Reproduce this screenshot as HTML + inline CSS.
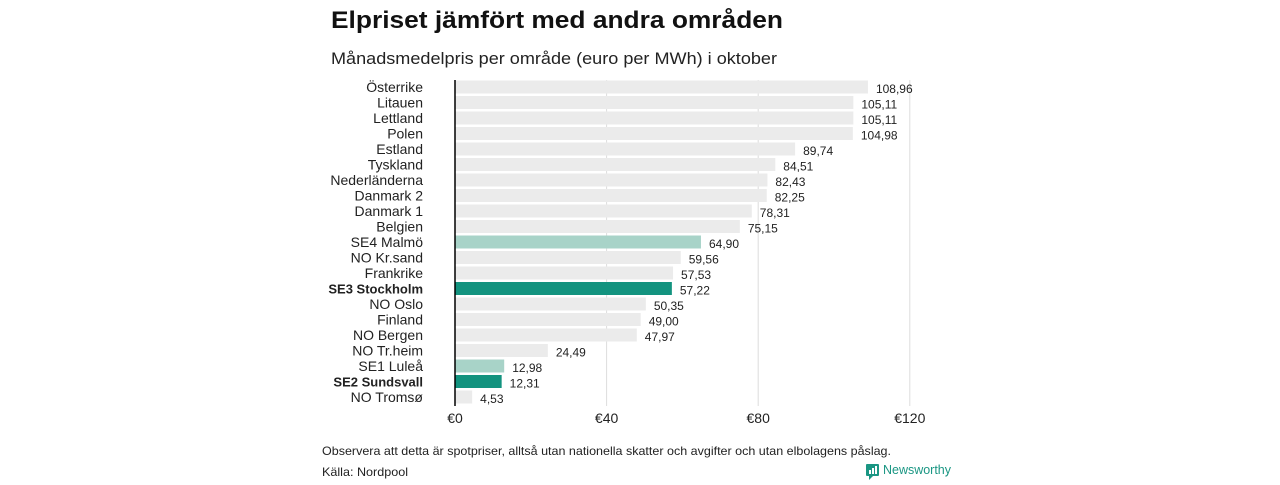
<!DOCTYPE html>
<html><head><meta charset="utf-8"><style>
body{margin:0;background:#fff;width:1280px;height:480px;overflow:hidden;font-family:"Liberation Sans","DejaVu Sans",sans-serif}
</style></head><body>
<svg width="1280" height="480" id="c">
<text x="331" y="28" font-size="24" font-weight="bold" fill="#111" textLength="452" lengthAdjust="spacingAndGlyphs">Elpriset jämfört med andra områden</text>
<text x="331" y="64" font-size="17" fill="#222" textLength="446" lengthAdjust="spacingAndGlyphs">Månadsmedelpris per område (euro per MWh) i oktober</text>
<text x="322" y="455" font-size="12" fill="#222" textLength="569" lengthAdjust="spacingAndGlyphs">Observera att detta är spotpriser, alltså utan nationella skatter och avgifter och utan elbolagens påslag.</text>
<text x="322" y="476" font-size="12" fill="#222" textLength="86" lengthAdjust="spacingAndGlyphs">Källa: Nordpool</text>
<g>
<rect x="866" y="464" width="13" height="12" rx="1" fill="#1a9683"/>
<polygon points="869,476 873,476 869,480" fill="#1a9683"/>
<rect x="869" y="470" width="2" height="4" fill="#fff"/><rect x="872" y="468" width="2" height="6" fill="#fff"/><rect x="875" y="466" width="2" height="8" fill="#fff"/>
<text x="883" y="474" font-size="13" fill="#1a9683" textLength="68" lengthAdjust="spacingAndGlyphs">Newsworthy</text>
</g>
<g id="grid"></g><g id="bars"></g>
</svg>
<script>
const categories=["Österrike","Litauen","Lettland","Polen","Estland","Tyskland","Nederländerna","Danmark  2","Danmark  1","Belgien","SE4  Malmö","NO Kr.sand","Frankrike","SE3 Stockholm","NO Oslo","Finland","NO Bergen","NO Tr.heim","SE1  Luleå","SE2 Sundsvall","NO Tromsø"];
const values=[108.96,105.11,105.11,104.98,89.74,84.51,82.43,82.25,78.31,75.15,64.90,59.56,57.53,57.22,50.35,49.00,47.97,24.49,12.98,12.31,4.53];
const highlight=["","","","","","","","","","","light","","","dark","","","","","light","dark",""];
const ticks=[0,40,80,120];
const tickLabels=["€0","€40","€80","€120"];
const NS="http://www.w3.org/2000/svg";
const x=v=>455+v*3.79;
const y=i=>87+i*15.5;
function mk(t,a,p){const e=document.createElementNS(NS,t);for(const k in a)e.setAttribute(k,a[k]);p.appendChild(e);return e;}
const g=document.getElementById('grid'),b=document.getElementById('bars');
ticks.forEach((t,i)=>{
 if(t>0){const l=mk('line',{x1:x(t),x2:x(t),y1:80,y2:406,stroke:'#ddd','stroke-width':1},g);
 
 }
 const tx=mk('text',{x:x(t),y:423,'font-size':14,'text-anchor':'middle',fill:'#222'},g);tx.textContent=tickLabels[i];
 
 
});
categories.forEach((c,i)=>{
 const h=highlight[i];
 const fill=h==='dark'?'#13937f':h==='light'?'#a8d3c8':'#ebebeb';
 const r=mk('rect',{x:455,y:y(i)-6.5,width:x(values[i])-455,height:13,fill:fill},b);
 
 
 const lb=mk('text',{x:423,y:y(i)+5,'font-size':h==='dark'?13:14,'text-anchor':'end',fill:'#222','font-weight':h==='dark'?'bold':'normal'},b);lb.textContent=c;
 
 
 const vl=mk('text',{x:x(values[i])+8,y:y(i)+6,'font-size':12,fill:'#222'},b);vl.textContent=values[i].toFixed(2).replace('.',',');
 
 
});
const ax=mk('line',{x1:455,x2:455,y1:80,y2:406,stroke:'#000','stroke-width':1.5},b);


</script>
</body></html>
